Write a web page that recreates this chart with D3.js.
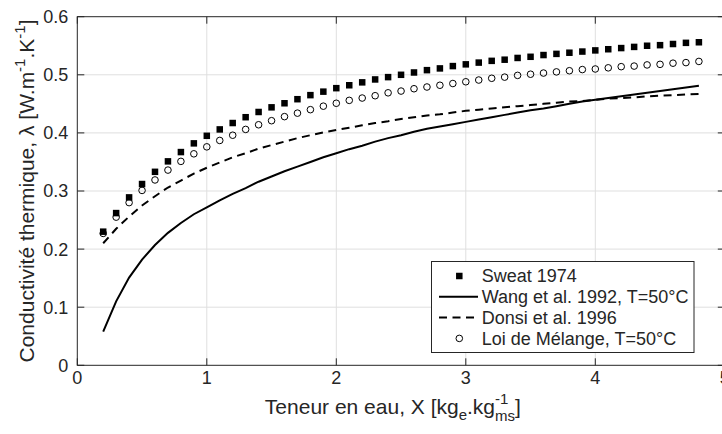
<!DOCTYPE html>
<html>
<head>
<meta charset="utf-8">
<script src="https://cdn.jsdelivr.net/npm/d3@7"></script>
<style>
  html, body { margin: 0; padding: 0; background: #fff; }
  svg { display: block; }
  text { font-family: "Liberation Sans", Arial, sans-serif; fill: #262626; }
</style>
</head>
<body>
<svg id="chart" width="722" height="434"></svg>
<script>
// Teneur en eau X [kg_e / kg_ms]
const teneur = [0.2,0.3,0.4,0.5,0.6,0.7,0.8,0.9,1.0,1.1,1.2,1.3,1.4,1.5,1.6,1.7,1.8,1.9,2.0,
  2.1,2.2,2.3,2.4,2.5,2.6,2.7,2.8,2.9,3.0,3.1,3.2,3.3,3.4,3.5,3.6,3.7,3.8,3.9,4.0,
  4.1,4.2,4.3,4.4,4.5,4.6,4.7,4.8];

// Conductivité thermique [W/m/K] per model
const sweat1974 = [0.230,0.262,0.289,0.312,0.333,0.351,0.367,0.382,0.395,0.406,0.417,0.427,0.436,0.444,0.451,0.458,0.465,0.471,0.477,
  0.482,0.487,0.492,0.496,0.500,0.504,0.508,0.511,0.515,0.518,0.521,0.524,0.526,0.529,0.531,0.534,0.536,0.538,0.540,0.542,
  0.544,0.546,0.548,0.550,0.551,0.553,0.555,0.556];
const wang1992 = [0.058,0.110,0.151,0.182,0.207,0.228,0.245,0.260,0.272,0.284,0.295,0.305,0.316,0.325,0.334,0.342,0.350,0.358,0.365,
  0.372,0.378,0.385,0.391,0.396,0.402,0.407,0.411,0.415,0.419,0.423,0.427,0.431,0.435,0.439,0.442,0.446,0.450,0.454,0.457,
  0.460,0.463,0.466,0.469,0.472,0.475,0.478,0.481];
const donsi1996 = [0.210,0.235,0.256,0.275,0.291,0.306,0.318,0.330,0.340,0.349,0.358,0.365,0.373,0.379,0.385,0.391,0.396,0.401,0.405,
  0.409,0.413,0.417,0.420,0.424,0.427,0.430,0.432,0.435,0.438,0.440,0.442,0.444,0.446,0.448,0.450,0.452,0.454,0.455,0.457,
  0.459,0.460,0.461,0.463,0.464,0.465,0.466,0.467];
const melange = [0.227,0.255,0.280,0.301,0.319,0.336,0.351,0.364,0.376,0.387,0.396,0.406,0.414,0.421,0.428,0.434,0.440,0.446,0.451,
  0.456,0.460,0.464,0.469,0.472,0.476,0.479,0.482,0.485,0.488,0.491,0.494,0.496,0.499,0.501,0.503,0.505,0.507,0.509,0.510,
  0.512,0.514,0.515,0.517,0.518,0.520,0.521,0.523];

const xTicks = [0,1,2,3,4,5];
const yTicks = [0,0.1,0.2,0.3,0.4,0.5,0.6];
const legendLabels = ["Sweat 1974","Wang et al. 1992, T=50°C","Donsi et al. 1996","Loi de Mélange, T=50°C"];

const svg = d3.select("#chart");
const axisColor = "#262626";
const gridColor = "#dfdfdf";
const tickLen = 7;

const x = d3.scaleLinear().domain([0, 5]).range([77.3, 724.8]);
const y = d3.scaleLinear().domain([0, 0.6]).range([365.3, 16.7]);
const [x0, x1] = x.range();
const [y0, y1] = y.range();

// grid
const grid = svg.append("g");
grid.selectAll("line.gx").data(xTicks.slice(1, -1)).join("line")
  .attr("x1", d => x(d)).attr("x2", d => x(d)).attr("y1", y0).attr("y2", y1)
  .attr("stroke", gridColor).attr("stroke-width", 1);
grid.selectAll("line.gy").data(yTicks.slice(1, -1)).join("line")
  .attr("y1", d => y(d)).attr("y2", d => y(d)).attr("x1", x0).attr("x2", x1)
  .attr("stroke", gridColor).attr("stroke-width", 1);

// curves
const line = d3.line().x(d => x(d[0])).y(d => y(d[1]));
svg.append("path").datum(teneur.map((t, i) => [t, wang1992[i]]))
  .attr("d", line).attr("fill", "none").attr("stroke", "#000").attr("stroke-width", 2);
svg.append("path").datum(teneur.map((t, i) => [t, donsi1996[i]]))
  .attr("d", line).attr("fill", "none").attr("stroke", "#000").attr("stroke-width", 2)
  .attr("stroke-dasharray", "8,5.5");

// markers
const sq = 6.5;
svg.append("g").selectAll("rect").data(teneur.map((t, i) => [t, sweat1974[i]])).join("rect")
  .attr("x", d => x(d[0]) - sq / 2).attr("y", d => y(d[1]) - sq / 2)
  .attr("width", sq).attr("height", sq).attr("fill", "#000");
svg.append("g").selectAll("circle").data(teneur.map((t, i) => [t, melange[i]])).join("circle")
  .attr("cx", d => x(d[0])).attr("cy", d => y(d[1])).attr("r", 3.3)
  .attr("fill", "none").attr("stroke", "#000").attr("stroke-width", 1);

// axes box with inward ticks
const axes = svg.append("g").attr("stroke", axisColor).attr("stroke-width", 1);
axes.append("rect").attr("x", x0).attr("y", y1).attr("width", x1 - x0).attr("height", y0 - y1)
  .attr("fill", "none");
xTicks.forEach(t => {
  axes.append("line").attr("x1", x(t)).attr("x2", x(t)).attr("y1", y0).attr("y2", y0 - tickLen);
  axes.append("line").attr("x1", x(t)).attr("x2", x(t)).attr("y1", y1).attr("y2", y1 + tickLen);
});
yTicks.forEach(t => {
  axes.append("line").attr("y1", y(t)).attr("y2", y(t)).attr("x1", x0).attr("x2", x0 + tickLen);
  axes.append("line").attr("y1", y(t)).attr("y2", y(t)).attr("x1", x1).attr("x2", x1 - tickLen);
});

// tick labels
svg.append("g").selectAll("text").data(xTicks).join("text")
  .attr("x", d => x(d)).attr("y", y0 + 18.5)
  .attr("text-anchor", "middle").attr("font-size", 18).text(d => d);
svg.append("g").selectAll("text").data(yTicks).join("text")
  .attr("x", x0 - 9).attr("y", d => y(d) + 6.4)
  .attr("text-anchor", "end").attr("font-size", 18).text(d => d);

// x axis label with sub/superscripts (kg^-1 stacked over ms)
const xl = svg.append("text").attr("font-size", 21).attr("y", 414);
xl.append("tspan").text("Teneur en eau, X [kg");
xl.append("tspan").attr("font-size", 15).attr("dy", 6).text("e");
xl.append("tspan").attr("dy", -6).text(".kg");
const sup = xl.append("tspan").attr("font-size", 15).attr("dy", -10).text("-1");
const supW = sup.node().getComputedTextLength();
xl.append("tspan").attr("font-size", 15).attr("dx", -supW).attr("dy", 17).text("ms");
xl.append("tspan").attr("dy", -7).text("]");
const xlW = xl.node().getComputedTextLength();
xl.attr("x", (x0 + x1) / 2 - 1.5 - xlW / 2);

// y axis label
const yl = svg.append("text").attr("font-size", 21)
  .attr("transform", `translate(34,${(y0 + y1) / 2}) rotate(-90)`);
yl.append("tspan").text("Conductivité thermique, λ [W.m");
yl.append("tspan").attr("font-size", 15).attr("dy", -9).text("-1");
yl.append("tspan").attr("dy", 9).text(".K");
yl.append("tspan").attr("font-size", 15).attr("dy", -9).text("-1");
yl.append("tspan").attr("dy", 9).text("]");
const ylW = yl.node().getComputedTextLength();
yl.attr("x", -ylW / 2);

// legend
const lg = svg.append("g");
lg.append("rect").attr("x", 431.5).attr("y", 261.5).attr("width", 262.5).attr("height", 91)
  .attr("fill", "#fff").attr("stroke", axisColor).attr("stroke-width", 1);
const rowY = i => 276 + i * 20.8;
const mx = 459.3;
lg.append("rect").attr("x", mx - sq / 2).attr("y", rowY(0) - sq / 2).attr("width", sq).attr("height", sq).attr("fill", "#000");
lg.append("line").attr("x1", 439).attr("x2", 478).attr("y1", rowY(1)).attr("y2", rowY(1))
  .attr("stroke", "#000").attr("stroke-width", 2);
lg.append("line").attr("x1", 439).attr("x2", 478).attr("y1", rowY(2)).attr("y2", rowY(2))
  .attr("stroke", "#000").attr("stroke-width", 2).attr("stroke-dasharray", "8,5.5");
lg.append("circle").attr("cx", mx).attr("cy", rowY(3)).attr("r", 3.3)
  .attr("fill", "none").attr("stroke", "#000").attr("stroke-width", 1);
lg.selectAll("text").data(legendLabels).join("text")
  .attr("x", 481.7).attr("y", (d, i) => rowY(i) + 6.4)
  .attr("font-size", 18).text(d => d);
</script>
</body>
</html>
